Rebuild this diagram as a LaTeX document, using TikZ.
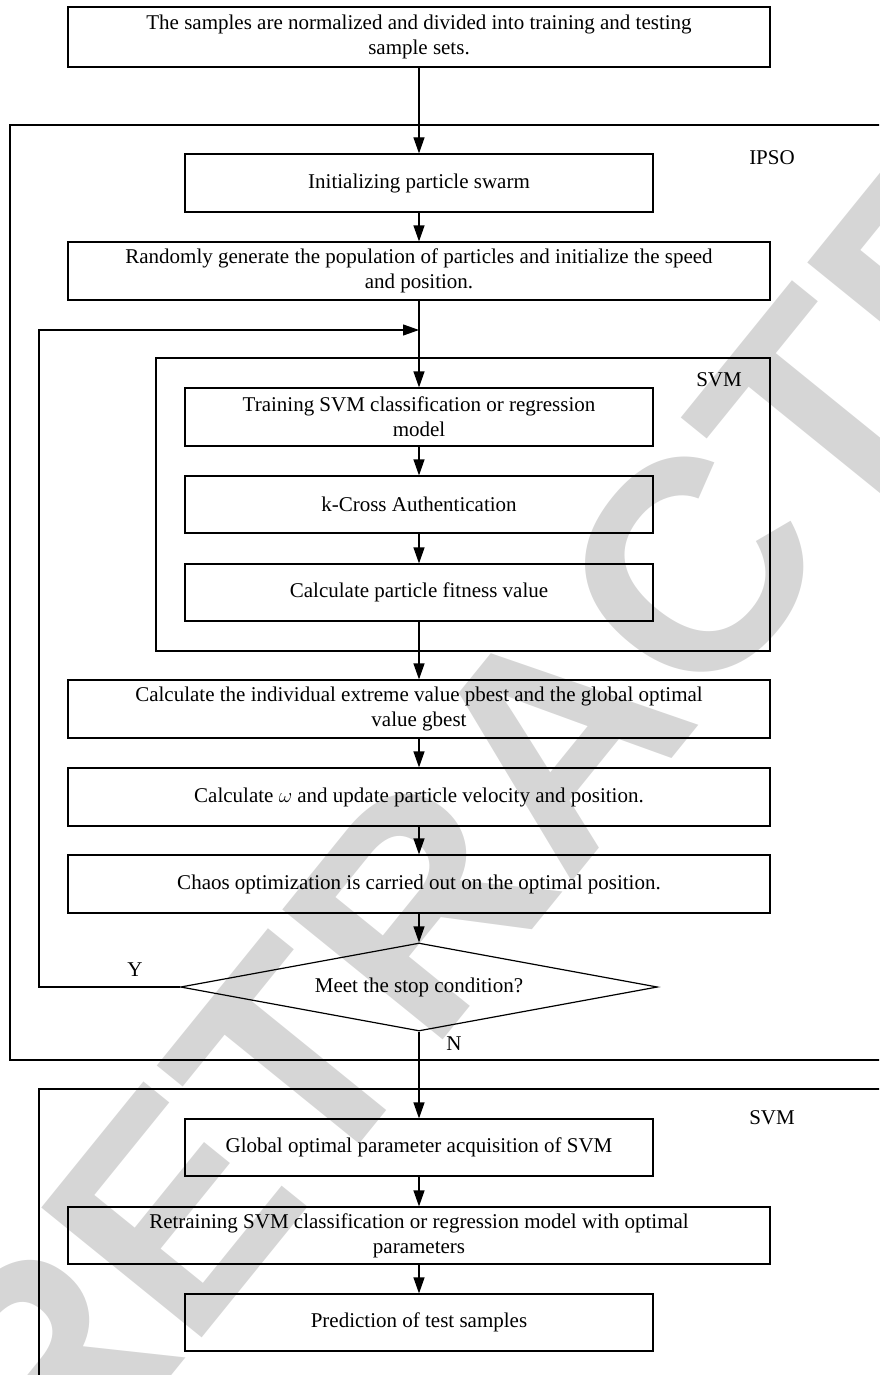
\documentclass[tikz,border=0pt]{standalone}
\usepackage{fontspec}
\setmainfont{Liberation Serif}
\newfontfamily\wmfont{Liberation Sans}
\usetikzlibrary{arrows.meta,shapes.geometric}
\begin{document}
\begin{tikzpicture}[x=1pt,y=-1pt,
  every node/.style={font=\fontsize{21}{25}\selectfont},
  box/.style={draw, line width=1.2pt, inner sep=0pt, align=center},
  wide/.style={box, minimum width=702pt, minimum height=58pt},
  narrow/.style={box, minimum width=468pt, minimum height=58pt},
  arr/.style={line width=1.2pt, -{Triangle[length=16pt,width=11pt]}},
  frame/.style={line width=1.2pt},
  lbl/.style={inner sep=0pt}]
\useasboundingbox (0,0) rectangle (879,1375);
\begin{scope}
\clip (0,0) rectangle (879,1375);
\node[rotate=51, text=black!16, inner sep=0pt, font=\wmfont\bfseries\fontsize{300}{300}\selectfont] (wm) at (555,738) {RETRACTED};
\draw[frame] (880,125) -- (10,125) -- (10,1060) -- (880,1060);
\draw[frame] (880,1089) -- (39,1089) -- (39,1376);
\end{scope}
\draw[frame] (156,358) rectangle (770,651);

\node[wide, minimum height=60pt] (top) at (419,37) {The samples are normalized and divided into training and testing\\sample sets.};
\node[narrow] (init) at (419,183) {Initializing particle swarm};
\node[wide] (rand) at (419,271) {Randomly generate the population of particles and initialize the speed\\and position.};
\node[narrow] (train) at (419,417) {Training SVM classification or regression\\model};
\node[narrow, minimum height=57pt] (kcross) at (419,504.5) {k-Cross Authentication};
\node[narrow, minimum height=57pt] (fit) at (419,592.5) {Calculate particle fitness value};
\node[wide] (pbest) at (419,709) {Calculate the individual extreme value pbest and the global optimal\\value gbest};
\node[wide] (omega) at (419,797) {Calculate $\omega$ and update particle velocity and position.};
\node[wide] (chaos) at (419,884) {Chaos optimization is carried out on the optimal position.};
\node[draw, line width=1.2pt, shape=diamond, aspect=5.42, inner sep=0pt, minimum width=477pt, minimum height=88pt] (stop) at (419,987) {Meet the stop condition?};
\node[narrow, minimum height=57pt] (glob) at (419,1147.5) {Global optimal parameter acquisition of SVM};
\node[wide, minimum height=57pt] (retr) at (419,1235.5) {Retraining SVM classification or regression model with optimal\\parameters};
\node[narrow, minimum height=57pt] (pred) at (419,1322.5) {Prediction of test samples};

\node[lbl] (ipso) at (772,158) {IPSO};
\node[lbl] (svma) at (719,380) {SVM};
\node[lbl] (svmb) at (772,1118) {SVM};
\node[lbl] (ylab) at (135,970) {Y};
\node[lbl] (nlab) at (454,1044) {N};

\coordinate (join) at (419,330);
\coordinate (c1) at (39,987);
\coordinate (c2) at (39,330);

\draw[arr] (top) -- (init);
\draw[arr] (init) -- (rand);
\draw[arr] (rand) -- (train);
\draw[arr] (train) -- (kcross);
\draw[arr] (kcross) -- (fit);
\draw[arr] (fit) -- (pbest);
\draw[arr] (pbest) -- (omega);
\draw[arr] (omega) -- (chaos);
\draw[arr] (chaos) -- (stop);
\draw[arr] (stop) -- (glob);
\draw[arr] (glob) -- (retr);
\draw[arr] (retr) -- (pred);
\draw[arr] (stop.west) -- (c1) -- (c2) -- (join);
\end{tikzpicture}
\end{document}
